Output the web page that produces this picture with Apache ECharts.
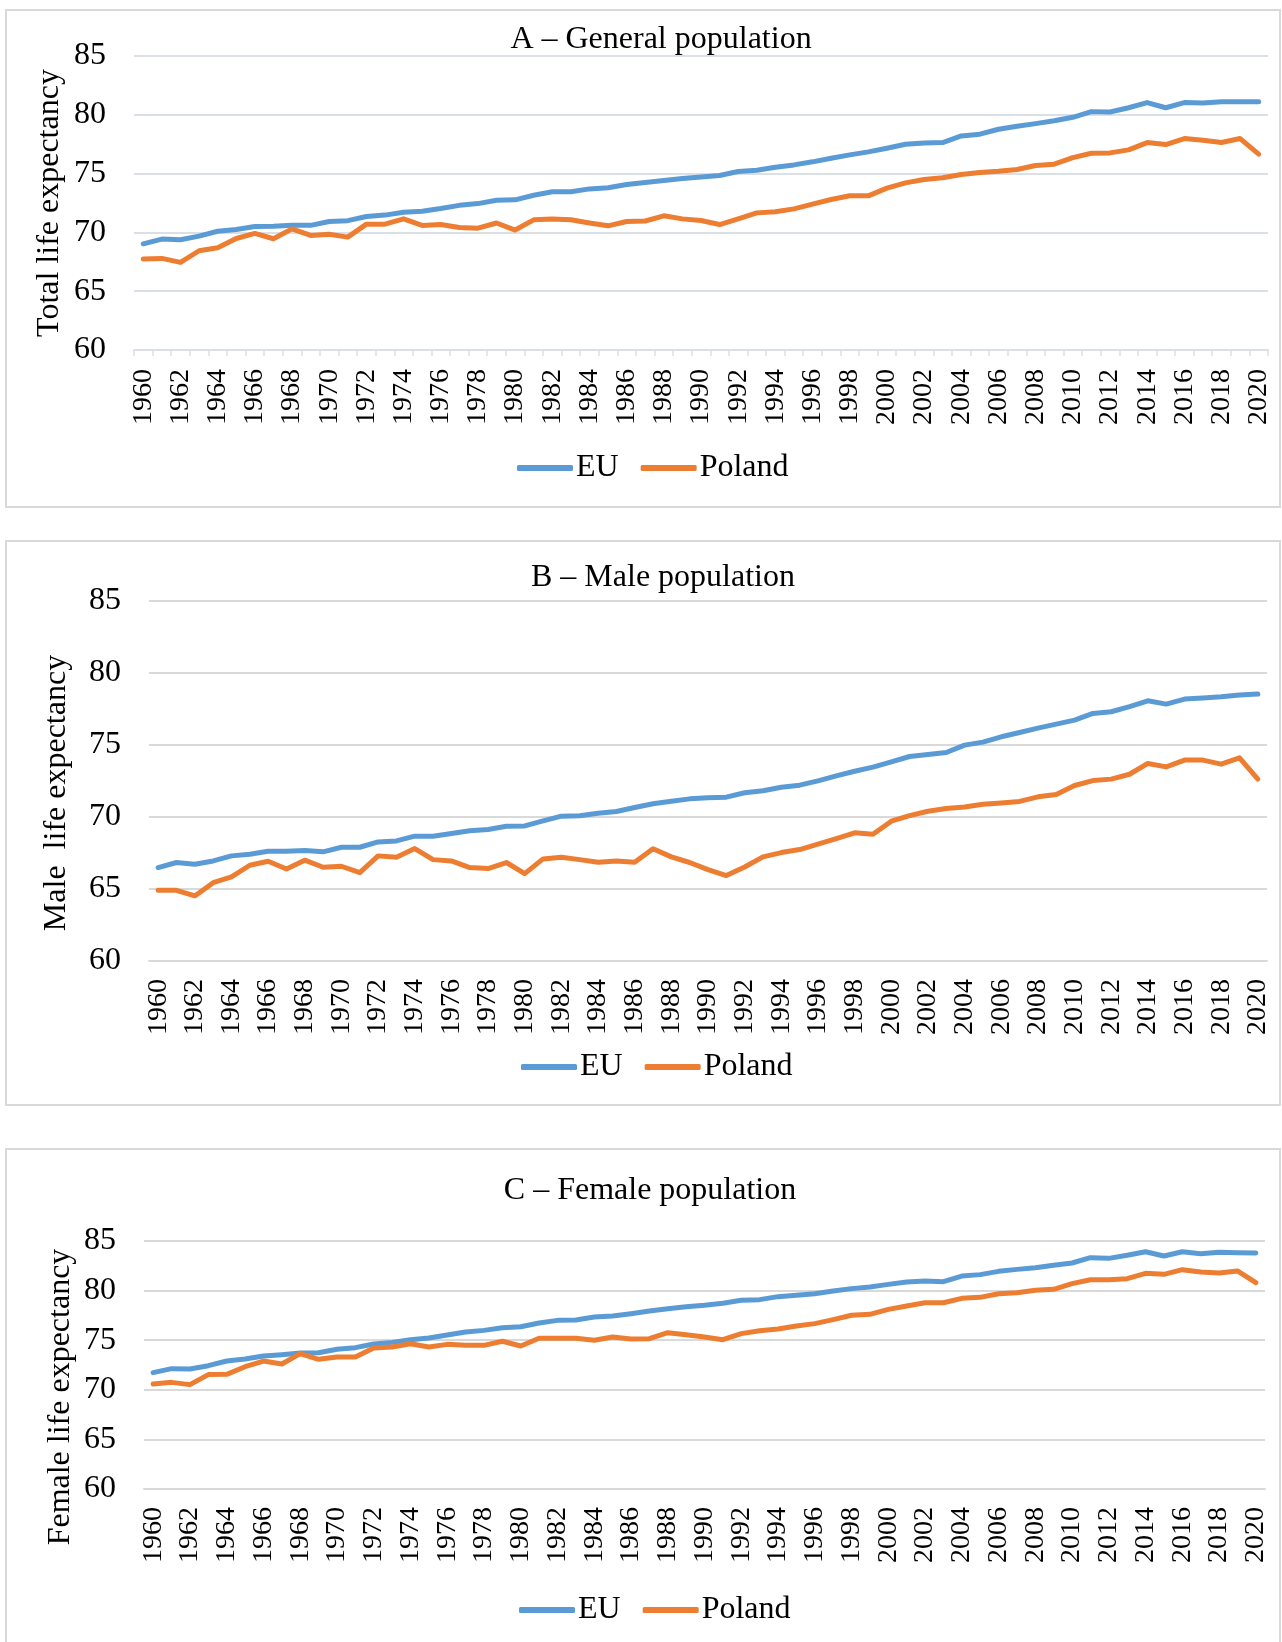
<!DOCTYPE html>
<html>
<head>
<meta charset="utf-8">
<script src="https://cdn.jsdelivr.net/npm/echarts@6.0.0/dist/echarts.min.js"></script>
<style>
  html, body { margin: 0; padding: 0; background: #ffffff; }
  #chart { width: 1282px; height: 1642px; }
</style>
</head>
<body>
<div id="chart"></div>
<script>
// Years on the category axes
const years = [
  '1960','1961','1962','1963','1964','1965','1966','1967','1968','1969',
  '1970','1971','1972','1973','1974','1975','1976','1977','1978','1979',
  '1980','1981','1982','1983','1984','1985','1986','1987','1988','1989',
  '1990','1991','1992','1993','1994','1995','1996','1997','1998','1999',
  '2000','2001','2002','2003','2004','2005','2006','2007','2008','2009',
  '2010','2011','2012','2013','2014','2015','2016','2017','2018','2019','2020'
];

// Y axis ticks (years of life)
const yTicks = [60, 65, 70, 75, 80, 85];

// A – General population
const euTotal = [69.03, 69.43, 69.37, 69.68, 70.1, 70.25, 70.5, 70.53, 70.6, 70.6,
  70.93, 71.0, 71.35, 71.47, 71.72, 71.8, 72.03, 72.3, 72.45, 72.74,
  72.77, 73.16, 73.45, 73.45, 73.7, 73.8, 74.07, 74.25, 74.41, 74.58,
  74.72, 74.84, 75.18, 75.29, 75.54, 75.74, 76.0, 76.31, 76.59, 76.85,
  77.16, 77.5, 77.61, 77.64, 78.2, 78.35, 78.77, 79.03, 79.25, 79.5,
  79.79, 80.27, 80.24, 80.6, 81.04, 80.6, 81.04, 81.0, 81.1, 81.12, 81.1];
const plTotal = [67.73, 67.79, 67.45, 68.44, 68.69, 69.48, 69.91, 69.46, 70.3, 69.74,
  69.85, 69.6, 70.7, 70.7, 71.15, 70.59, 70.67, 70.42, 70.36, 70.8,
  70.2, 71.07, 71.13, 71.07, 70.8, 70.56, 70.93, 70.97, 71.41, 71.15,
  71.01, 70.67, 71.15, 71.66, 71.75, 72.0, 72.4, 72.8, 73.11, 73.11,
  73.76, 74.21, 74.5, 74.64, 74.92, 75.09, 75.2, 75.35, 75.69, 75.8,
  76.36, 76.73, 76.76, 77.02, 77.64, 77.47, 77.98, 77.84, 77.64, 77.98, 76.65];

// B – Male population
const euMale = [66.49, 66.84, 66.72, 66.95, 67.3, 67.41, 67.62, 67.62, 67.67, 67.58,
  67.9, 67.9, 68.27, 68.34, 68.67, 68.67, 68.85, 69.04, 69.13, 69.36,
  69.38, 69.73, 70.06, 70.08, 70.26, 70.38, 70.66, 70.92, 71.1, 71.26,
  71.33, 71.38, 71.68, 71.82, 72.07, 72.21, 72.51, 72.86, 73.18, 73.46,
  73.83, 74.2, 74.34, 74.48, 74.99, 75.2, 75.57, 75.87, 76.17, 76.45,
  76.73, 77.19, 77.31, 77.66, 78.07, 77.84, 78.19, 78.26, 78.35, 78.47, 78.54];
const plMale = [64.91, 64.91, 64.52, 65.44, 65.84, 66.65, 66.93, 66.39, 67.0, 66.51,
  66.58, 66.14, 67.3, 67.21, 67.81, 67.04, 66.95, 66.49, 66.42, 66.84,
  66.07, 67.09, 67.21, 67.04, 66.86, 66.95, 66.86, 67.8, 67.23, 66.84,
  66.35, 65.93, 66.53, 67.23, 67.53, 67.74, 68.11, 68.5, 68.9, 68.8,
  69.71, 70.1, 70.4, 70.59, 70.7, 70.89, 70.98, 71.08, 71.4, 71.56,
  72.19, 72.53, 72.63, 72.97, 73.72, 73.48, 73.95, 73.95, 73.67, 74.11, 72.63];

// C – Female population
const euFemale = [71.73, 72.13, 72.1, 72.43, 72.9, 73.1, 73.41, 73.54, 73.71, 73.74,
  74.08, 74.25, 74.62, 74.78, 75.05, 75.22, 75.52, 75.83, 75.99, 76.26,
  76.36, 76.73, 77.0, 77.04, 77.34, 77.44, 77.67, 77.94, 78.18, 78.38,
  78.52, 78.72, 79.02, 79.09, 79.39, 79.52, 79.69, 79.96, 80.2, 80.36,
  80.63, 80.87, 80.97, 80.9, 81.47, 81.61, 81.94, 82.14, 82.31, 82.55,
  82.78, 83.32, 83.25, 83.56, 83.92, 83.49, 83.92, 83.72, 83.86, 83.82, 83.79];
const plFemale = [70.58, 70.75, 70.52, 71.53, 71.56, 72.33, 72.9, 72.6, 73.64, 73.07,
  73.31, 73.31, 74.21, 74.31, 74.65, 74.31, 74.58, 74.48, 74.48, 74.89,
  74.42, 75.19, 75.19, 75.19, 74.99, 75.32, 75.12, 75.15, 75.76, 75.56,
  75.32, 75.05, 75.66, 75.96, 76.13, 76.43, 76.67, 77.07, 77.51, 77.61,
  78.11, 78.45, 78.78, 78.78, 79.22, 79.32, 79.69, 79.79, 80.03, 80.13,
  80.7, 81.1, 81.1, 81.2, 81.74, 81.64, 82.11, 81.87, 81.77, 81.98, 80.8];

const seriesNames = ['EU', 'Poland'];
const colors = ['#5B9BD5', '#ED7D31'];
const FONT = '"Liberation Serif", "Times New Roman", serif';

// Layout of the three stacked panels
const panels = [
  { title: 'A \u2013 General population', axisName: 'Total life expectancy',
    data: [euTotal, plTotal],
    grid: { left: 134, top: 56, width: 1134, height: 294 },
    box: { x: 6, y: 10, w: 1274, h: 497 },
    titlePos: [661, 40], axisNamePos: [50, 203],
    legendPos: [517, 452], lineColor: '#dbe0e7', ticks: true, labelMargin: 19 },
  { title: 'B \u2013 Male population', axisName: 'Male  life expectancy',
    data: [euMale, plMale],
    grid: { left: 149, top: 601, width: 1118, height: 360 },
    box: { x: 6, y: 541, w: 1274, h: 564 },
    titlePos: [663, 578], axisNamePos: [57, 793],
    legendPos: [521, 1051], lineColor: '#d9d9d9', ticks: false, labelMargin: 18 },
  { title: 'C \u2013 Female population', axisName: 'Female life expectancy',
    data: [euFemale, plFemale],
    grid: { left: 144, top: 1241, width: 1121, height: 248 },
    box: { x: 6, y: 1149, w: 1274, h: 520 },
    titlePos: [650, 1191], axisNamePos: [61, 1397],
    legendPos: [519, 1594], lineColor: '#d9d9d9', ticks: false, labelMargin: 18 }
];

const option = {
  animation: false,
  backgroundColor: '#ffffff',
  color: colors,
  grid: [], xAxis: [], yAxis: [], series: [], legend: [], graphic: []
};

panels.forEach((p, k) => {
  option.grid.push(Object.assign({ containLabel: false }, p.grid));
  option.xAxis.push({
    type: 'category', gridIndex: k, data: years, boundaryGap: true,
    axisLine: { show: true, lineStyle: { color: p.lineColor, width: 2 } },
    axisTick: { show: p.ticks, interval: 0, length: 6, lineStyle: { color: p.lineColor, width: 1.5 } },
    axisLabel: { interval: 1, rotate: 90, margin: p.labelMargin, color: '#000',
      fontFamily: FONT, fontSize: 28 },
    splitLine: { show: false }
  });
  option.yAxis.push({
    type: 'value', gridIndex: k, min: yTicks[0], max: yTicks[yTicks.length - 1], interval: 5,
    axisLine: { show: false }, axisTick: { show: false },
    axisLabel: { margin: 28, color: '#000', fontFamily: FONT, fontSize: 32 },
    splitLine: { show: true, lineStyle: { color: p.lineColor, width: 2 } }
  });
  seriesNames.forEach((name, s) => {
    option.series.push({
      type: 'line', name: name, xAxisIndex: k, yAxisIndex: k,
      data: p.data[s], symbol: 'none', smooth: false,
      lineStyle: { width: 5, color: colors[s], cap: 'round', join: 'round' },
      itemStyle: { color: colors[s] }
    });
  });
  option.legend.push({
    data: seriesNames, left: p.legendPos[0], top: p.legendPos[1],
    orient: 'horizontal', icon: 'roundRect', itemWidth: 56, itemHeight: 6,
    itemGap: 22, padding: 0, selectedMode: false,
    textStyle: { fontFamily: FONT, fontSize: 32, color: '#000', padding: [0, 0, 0, -2] }
  });
  // panel frame
  option.graphic.push({
    type: 'rect', silent: true, z: -1,
    shape: { x: p.box.x, y: p.box.y, width: p.box.w, height: p.box.h },
    style: { fill: 'none', stroke: '#d9d9d9', lineWidth: 2 }
  });
  // panel title
  option.graphic.push({
    type: 'text', x: p.titlePos[0], y: p.titlePos[1], silent: true,
    style: { text: p.title, fontFamily: FONT, fontSize: 32, fill: '#000',
      align: 'center', verticalAlign: 'middle' }
  });
  // y axis title
  option.graphic.push({
    type: 'text', x: p.axisNamePos[0], y: p.axisNamePos[1], rotation: Math.PI / 2, silent: true,
    style: { text: p.axisName, fontFamily: FONT, fontSize: 32, fill: '#000',
      align: 'center', verticalAlign: 'middle' }
  });
});

const chart = echarts.init(document.getElementById('chart'), null, { renderer: 'canvas', width: 1282, height: 1642 });
chart.setOption(option);
</script>
</body>
</html>
